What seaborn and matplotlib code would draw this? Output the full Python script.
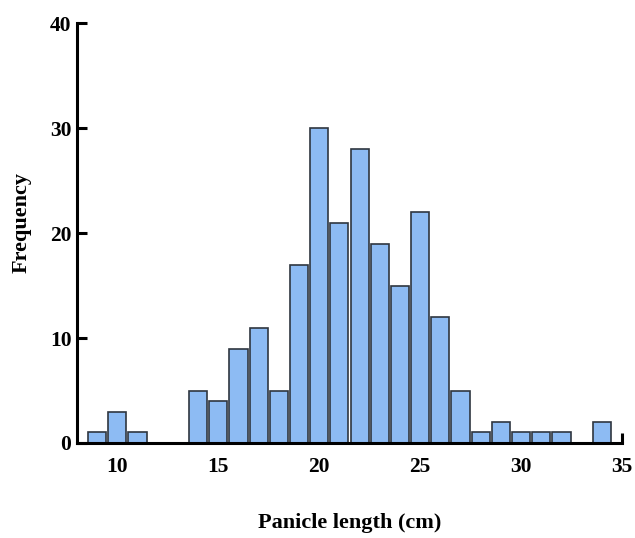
import matplotlib
matplotlib.use("Agg")
import matplotlib.pyplot as plt
import seaborn as sns
import numpy as np

# panicle length classes (cm) and their counts
lengths = [9, 10, 11, 14, 15, 16, 17, 18, 19, 20, 21, 22, 23, 24, 25,
           26, 27, 28, 29, 30, 31, 32, 34]
counts = [1, 3, 1, 5, 4, 9, 11, 5, 17, 30, 21, 28, 19, 15, 22,
          12, 5, 1, 2, 1, 1, 1, 2]
x_ticks = [10, 15, 20, 25, 30, 35]
y_ticks = [0, 10, 20, 30, 40]

sns.set_style("white")
plt.rcParams['font.family'] = ['Liberation Serif', 'DejaVu Serif']
plt.rcParams['font.weight'] = 'bold'
plt.rcParams['text.color'] = 'black'
plt.rcParams['axes.labelcolor'] = 'black'

fig = plt.figure(figsize=(6.35, 5.38), dpi=100)
ax = fig.add_axes([0.1213, 0.1766, 0.8582, 0.7804])

sns.histplot(x=lengths, weights=counts, discrete=True, shrink=0.9,
             color='#8dbbf3', edgecolor='#2f3640', linewidth=1.2,
             alpha=1, ax=ax)

ax.set_xlim(8, 35)
ax.set_ylim(0, 40)
ax.set_xticks(x_ticks)
ax.set_yticks(y_ticks)

sns.despine(ax=ax)
for s in ['left', 'bottom']:
    ax.spines[s].set_linewidth(2.2)
    ax.spines[s].set_color('black')

ax.tick_params(axis='both', direction='in', length=7, width=2.2,
               labelsize=15.5, colors='black', bottom=True, left=True)
ax.tick_params(axis='x', pad=10)
ax.tick_params(axis='y', pad=4)
for lab in ax.get_xticklabels() + ax.get_yticklabels():
    lab.set_fontweight('bold')

ax.set_xlabel('Panicle length (cm)', fontsize=16, fontweight='bold', labelpad=26)
ax.set_ylabel('Frequency', fontsize=16, fontweight='bold')
ax.yaxis.set_label_coords(-0.083, 0.525)

fig.savefig('out.png', dpi=100)
